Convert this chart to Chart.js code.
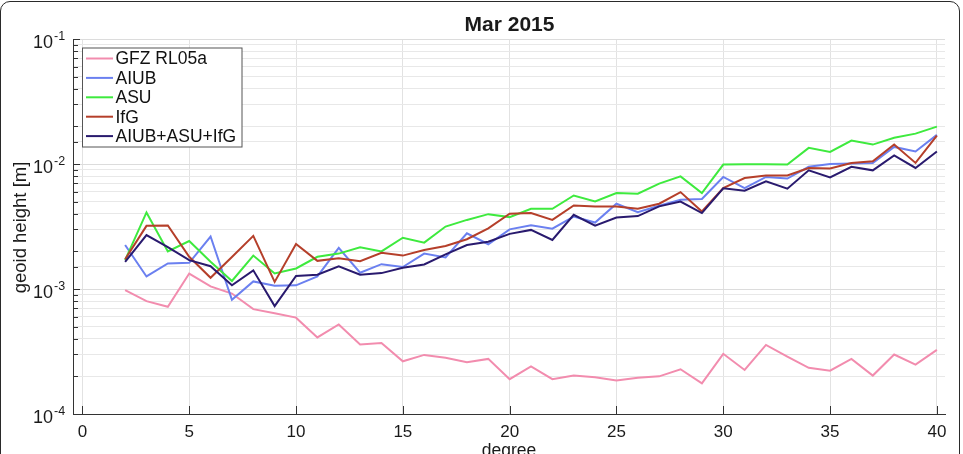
<!DOCTYPE html>
<html>
<head>
<meta charset="utf-8">
<script src="https://cdn.jsdelivr.net/npm/chart.js@4.4.0/dist/chart.umd.min.js"></script>
<style>
  html, body { margin: 0; padding: 0; background: #fff; overflow: hidden; width: 963px; height: 454px; }
  #frame { position: absolute; left: 0; top: 1px; width: 958px; height: 480px; border: 1.5px solid #2a2a2a; border-radius: 10px; }
  #wrap { position: absolute; left: 0; top: 0; width: 963px; height: 470px; }
</style>
</head>
<body>
<div id="frame"></div>
<div id="wrap"><canvas id="geoidChart" width="963" height="470"></canvas></div>
<script>
// spherical harmonic degree (x axis)
const degrees = [2, 3, 4, 5, 6, 7, 8, 9, 10, 11, 12, 13, 14, 15, 16, 17, 18, 19, 20, 21,
                 22, 23, 24, 25, 26, 27, 28, 29, 30, 31, 32, 33, 34, 35, 36, 37, 38, 39, 40];
const xTicks = [0, 5, 10, 15, 20, 25, 30, 35, 40];
const yMajor = [1e-4, 1e-3, 1e-2, 1e-1];

// geoid height per degree [m]
const gfz = [0.00098, 0.00080, 0.00072, 0.00133, 0.00105, 0.00092, 0.00069, 0.00064, 0.00059, 0.00041,
             0.00052, 0.00036, 0.00037, 0.000264, 0.000297, 0.000282, 0.00026, 0.000276, 0.00019, 0.00024,
             0.00019, 0.000203, 0.000197, 0.000185, 0.000195, 0.0002, 0.000228, 0.000176, 0.000303, 0.000225,
             0.000357, 0.000288, 0.000234, 0.000222, 0.000276, 0.000203, 0.000299, 0.000248, 0.000326];
const aiub = [0.00225, 0.00126, 0.0016, 0.00162, 0.00263, 0.00082, 0.00115, 0.00106, 0.00107, 0.00126,
              0.00213, 0.00135, 0.00158, 0.0015, 0.00192, 0.00179, 0.00279, 0.00228, 0.0030, 0.00324,
              0.00304, 0.0038, 0.0034, 0.00481, 0.00412, 0.00463, 0.00517, 0.00525, 0.00788, 0.0064,
              0.00788, 0.00765, 0.0095, 0.0100, 0.0101, 0.0102, 0.0137, 0.0126, 0.0171];
const asu = [0.0017, 0.0041, 0.0020, 0.00242, 0.00165, 0.00116, 0.00185, 0.00133, 0.00146, 0.00181,
             0.00192, 0.00216, 0.0020, 0.00257, 0.00235, 0.00316, 0.00357, 0.00397, 0.00376, 0.00438,
             0.00438, 0.0056, 0.00501, 0.00586, 0.00578, 0.00696, 0.00796, 0.00586, 0.00989, 0.00995,
             0.00995, 0.0099, 0.01346, 0.0125, 0.0154, 0.0143, 0.0162, 0.0175, 0.0199];
const ifg = [0.00173, 0.0032, 0.00322, 0.00181, 0.00123, 0.0018, 0.00266, 0.00114, 0.00229, 0.00168,
             0.00176, 0.00167, 0.00195, 0.00185, 0.00205, 0.00221, 0.0025, 0.00306, 0.0040, 0.00405,
             0.00357, 0.00466, 0.00457, 0.00457, 0.00439, 0.00481, 0.00596, 0.00417, 0.00643, 0.00773,
             0.0081, 0.0081, 0.0093, 0.0092, 0.0102, 0.0105, 0.0143, 0.0102, 0.0169];
const combined = [0.00165, 0.0027, 0.00216, 0.0017, 0.00152, 0.00107, 0.00141, 0.00073, 0.00127, 0.0013,
                  0.00152, 0.0013, 0.00134, 0.00148, 0.00157, 0.00189, 0.00225, 0.00239, 0.00276, 0.00297,
                  0.00247, 0.00392, 0.00321, 0.00373, 0.00383, 0.00458, 0.00501, 0.00405, 0.0064, 0.00611,
                  0.00726, 0.00634, 0.0089, 0.00782, 0.0095, 0.0089, 0.0117, 0.0093, 0.0126];

const seriesNames = ["GFZ RL05a", "AIUB", "ASU", "IfG", "AIUB+ASU+IfG"];
const seriesColors = ["#f28cae", "#6b80f0", "#3eea3e", "#b53f2a", "#291a6e"];
const seriesValues = [gfz, aiub, asu, ifg, combined];

const FONT = "'Liberation Sans', Arial, Helvetica, sans-serif";

function isMajor(v) {
    const l = Math.log10(v);
    return Math.abs(l - Math.round(l)) < 1e-6;
}

// axis decorations MATLAB style: inward ticks, superscript labels, title, legend box
const decor = {
    id: "decor",
    afterDraw(chart) {
        const { ctx, chartArea: a, scales: { x, y } } = chart;
        ctx.save();

        // inward tick marks
        ctx.strokeStyle = "#333";
        ctx.lineWidth = 1;
        ctx.beginPath();
        y.ticks.forEach(t => {
            const py = Math.round(y.getPixelForValue(t.value)) + 0.5;
            ctx.moveTo(a.left, py);
            ctx.lineTo(a.left + (isMajor(t.value) ? 7 : 5), py);
        });
        x.ticks.forEach(t => {
            const px = Math.round(x.getPixelForValue(t.value)) + 0.5;
            ctx.moveTo(px, a.bottom);
            ctx.lineTo(px, a.bottom - 8);
        });
        ctx.stroke();

        // y tick labels 10^n
        ctx.fillStyle = "#1a1a1a";
        ctx.textBaseline = "alphabetic";
        yMajor.forEach(v => {
            const py = y.getPixelForValue(v);
            const exp = String(Math.round(Math.log10(v)));
            ctx.font = "18px " + FONT;
            ctx.textAlign = "right";
            ctx.fillText("10", 53, py + 8.5);
            ctx.font = "12.5px " + FONT;
            ctx.textAlign = "left";
            ctx.fillText(exp, 54, py + 1);
        });

        // title
        ctx.font = "bold 21px " + FONT;
        ctx.textAlign = "center";
        ctx.fillText("Mar 2015", (a.left + a.right) / 2 + 0.5, 30.5);

        // axis titles
        ctx.font = "17.5px " + FONT;
        ctx.fillText("degree", (a.left + a.right) / 2, 456);
        ctx.save();
        ctx.translate(26, (a.top + a.bottom) / 2 + 1);
        ctx.rotate(-Math.PI / 2);
        ctx.font = "18.5px " + FONT;
        ctx.fillText("geoid height [m]", 0, 0);
        ctx.restore();

        // legend
        const bx = 82.5, by = 48, bw = 159.5, bh = 99;
        ctx.fillStyle = "#fff";
        ctx.fillRect(bx, by, bw, bh);
        ctx.strokeStyle = "#555";
        ctx.lineWidth = 1;
        ctx.strokeRect(bx, by, bw, bh);
        ctx.font = "17.5px " + FONT;
        ctx.textAlign = "left";
        ctx.textBaseline = "middle";
        chart.data.datasets.forEach((ds, i) => {
            const ry = 58.5 + i * 19.4;
            ctx.strokeStyle = ds.borderColor;
            ctx.lineWidth = 2;
            ctx.beginPath();
            ctx.moveTo(86, ry);
            ctx.lineTo(113, ry);
            ctx.stroke();
            ctx.fillStyle = "#111";
            ctx.fillText(ds.label, 115.5, ry + 1);
        });

        ctx.restore();
    }
};

const ctx = document.getElementById("geoidChart").getContext("2d");
const geoidChart = new Chart(ctx, {
    type: "line",
    data: {
        datasets: seriesNames.map((name, i) => ({
            label: name,
            data: degrees.map((d, k) => ({ x: d, y: seriesValues[i][k] })),
            borderColor: seriesColors[i],
            backgroundColor: seriesColors[i],
            borderWidth: 2,
            pointRadius: 0,
            tension: 0,
            fill: false,
            order: seriesNames.length - i
        }))
    },
    options: {
        responsive: false,
        animation: false,
        devicePixelRatio: 1,
        layout: { padding: { left: 0, right: 18, top: 39, bottom: 0 } },
        plugins: {
            legend: { display: false },
            title: { display: false },
            tooltip: { enabled: false }
        },
        scales: {
            x: {
                type: "linear",
                min: -0.44,
                max: 40.38,
                afterBuildTicks: s => { s.ticks = xTicks.map(v => ({ value: v })); },
                afterFit: s => { s.height = 56; },
                grid: { color: "#e2e2e2", drawTicks: false },
                border: { display: true, color: "#333", width: 1 },
                ticks: {
                    padding: 8,
                    color: "#1a1a1a",
                    font: { family: FONT, size: 17 },
                    maxRotation: 0
                }
            },
            y: {
                type: "logarithmic",
                min: 1e-4,
                max: 1e-1,
                afterFit: s => { s.width = 73; },
                grid: {
                    drawTicks: false,
                    color: c => isMajor(c.tick.value) ? "#dcdcdc" : "#e8e8e8"
                },
                border: { display: true, color: "#333", width: 1 },
                ticks: { display: false }
            }
        }
    },
    plugins: [decor]
});
</script>
</body>
</html>
